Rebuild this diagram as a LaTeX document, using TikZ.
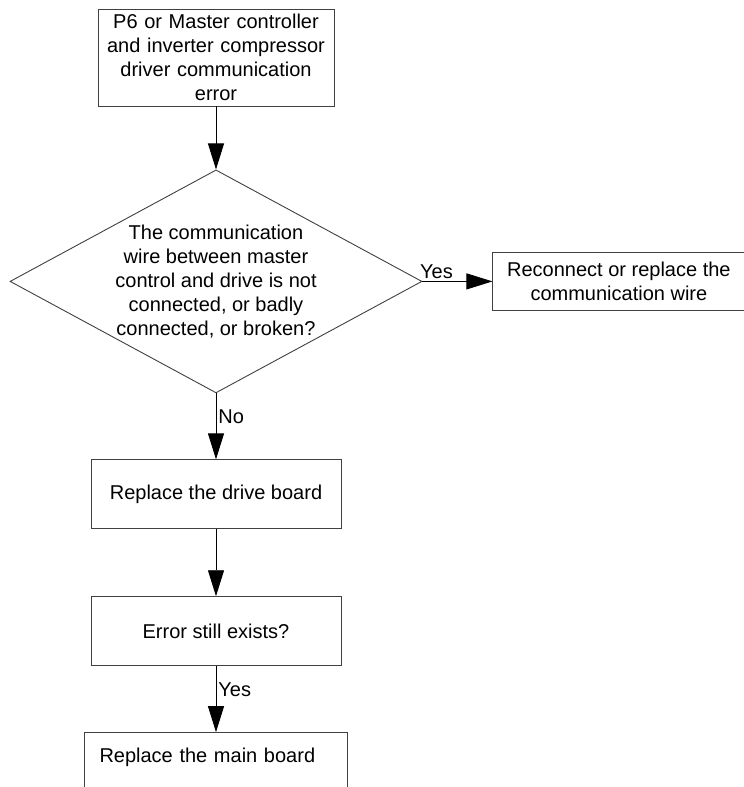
\documentclass[tikz,border=0pt]{standalone}
\usepackage{fontspec}
\setmainfont{Liberation Sans}
\usepackage{tikz}
\usetikzlibrary{arrows.meta,positioning,shapes.geometric}

\begin{document}
\begin{tikzpicture}[
      node distance=67pt and 70pt,
      font=\fontsize{20}{24}\selectfont,
      box/.style={rectangle, draw=black!75, line width=0.9pt, align=center,
            minimum width=250pt, minimum height=69pt, inner sep=4pt},
      decision/.style={diamond, draw=black!75, line width=0.9pt, align=center,
            aspect=1.85, minimum width=412pt, minimum height=223pt, inner sep=0pt},
      arrow/.style={-{Triangle[length=26pt, width=16pt]}, line width=0.9pt},
      lbl/.style={font=\fontsize{20}{22}\selectfont, inner sep=2pt}
]
      \useasboundingbox (0pt,0pt) rectangle (744pt,-787pt);

      \node[box, minimum width=236pt, minimum height=97pt, text width=228pt] (err) at (216pt,-57.5pt)
            {P6 or Master controller\\and inverter compressor\\driver communication\\error};
      \node[decision, below=63pt of err] (check)
            {The communication\\wire between master\\control and drive is not\\connected, or badly\\connected, or broken?};
      \node[box, right=of check, minimum width=252pt, minimum height=58pt] (rewire)
            {Reconnect or replace the\\communication wire};
      \node[box, below=66pt of check] (drive) {Replace the drive board};
      \node[box, below=of drive] (still) {Error still exists?};
      \node[box, below=66pt of still, minimum width=263pt, text width=233pt, align=left,
            inner xsep=15pt, text depth=24pt] (mainboard) {Replace the main board};

      \draw[arrow] (err) -- (check);
      \draw[arrow] (check) -- node[lbl, above, pos=0.2] {Yes} (rewire);
      \draw[arrow] (check) -- node[lbl, right, pos=0.35] {No} (drive);
      \draw[arrow] (drive) -- (still);
      \draw[arrow] (still) -- node[lbl, right, pos=0.35] {Yes} (mainboard);
\end{tikzpicture}
\end{document}
